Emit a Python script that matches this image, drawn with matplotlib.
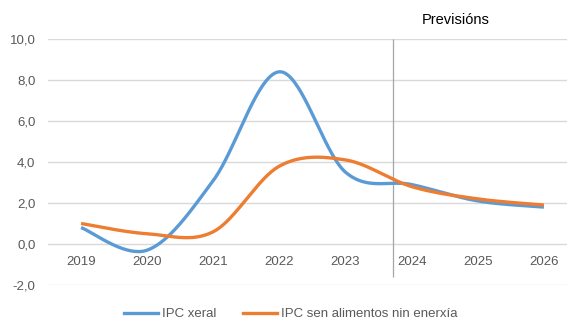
import numpy as np
import matplotlib
matplotlib.use("Agg")
import matplotlib.pyplot as plt
from matplotlib.lines import Line2D

years = ["2019", "2020", "2021", "2022", "2023", "2024", "2025", "2026"]
ipc_xeral = [0.8, -0.3, 3.1, 8.4, 3.5, 2.9, 2.1, 1.8]
ipc_subxacente = [1.0, 0.5, 0.6, 3.8, 4.1, 2.8, 2.2, 1.9]
series_names = ["IPC xeral", "IPC sen alimentos nin enerxía"]
y_ticks = [-2, 0, 2, 4, 6, 8, 10]
forecast_label = "Previsións"

BLUE = "#5B9BD5"
ORANGE = "#ED7D31"
TICK_GRAY = "#595959"

plt.rcParams["font.family"] = ["Liberation Sans", "DejaVu Sans"]


def smooth(xs, ys, n=40):
    """Catmull-Rom style Bezier smoothing through every point."""
    p = np.column_stack([xs, ys]).astype(float)
    ext = np.vstack([p[0], p, p[-1]])
    out = []
    t = np.linspace(0, 1, n)[:, None]
    for i in range(len(p) - 1):
        p0, p1, p2, p3 = ext[i], ext[i + 1], ext[i + 2], ext[i + 3]
        c1 = p1 + (p2 - p0) / 6.0
        c2 = p2 - (p3 - p1) / 6.0
        seg = ((1 - t) ** 3) * p1 + 3 * ((1 - t) ** 2) * t * c1 \
            + 3 * (1 - t) * t ** 2 * c2 + t ** 3 * p2
        out.append(seg if i == 0 else seg[1:])
    s = np.vstack(out)
    return s[:, 0], s[:, 1]


W, H = 567, 325
fig = plt.figure(figsize=(W / 100, H / 100), dpi=100)
ax = fig.add_axes([48 / W, 40 / H, 529 / W, 246 / H])

x = np.arange(len(years))
ax.set_xlim(-0.5, len(years) - 0.5)
ax.set_ylim(-2, 10)

for v in y_ticks:
    ax.axhline(v, color="#D9D9D9", lw=1.0, zorder=0)

for vals, col in ((ipc_xeral, BLUE), (ipc_subxacente, ORANGE)):
    sx, sy = smooth(x, vals)
    ax.plot(sx, sy, color=col, lw=2.4, solid_capstyle="butt", zorder=3)

# forecast divider
ax.vlines(4.72, -1.6, 10, color="#A6A6A6", lw=0.9, zorder=2, clip_on=False)
ax.text(5.66, 10.93, forecast_label, ha="center", va="center",
        fontsize=10.5, color="black", clip_on=False)

ax.set_yticks(y_ticks)
ax.set_yticklabels([f"{v:.1f}".replace(".", ",") for v in y_ticks],
                   color=TICK_GRAY, fontsize=9.5)
ax.tick_params(axis="y", length=0, pad=9)
ax.set_xticks([])
for xi, lab in zip(x, years):
    ax.text(xi, -0.9, lab, ha="center", va="center", fontsize=9.5, color=TICK_GRAY)

for sp in ax.spines.values():
    sp.set_visible(False)

handles = [Line2D([], [], color=BLUE, lw=2.4),
           Line2D([], [], color=ORANGE, lw=2.4)]
fig.legend(handles, series_names, loc="center", ncol=2,
           bbox_to_anchor=(291 / W, 1 - 314 / H), frameon=False,
           fontsize=9.5, handlelength=2.6, handletextpad=0.3,
           columnspacing=2.0, labelcolor=TICK_GRAY)

fig.savefig("out.png", dpi=100)
